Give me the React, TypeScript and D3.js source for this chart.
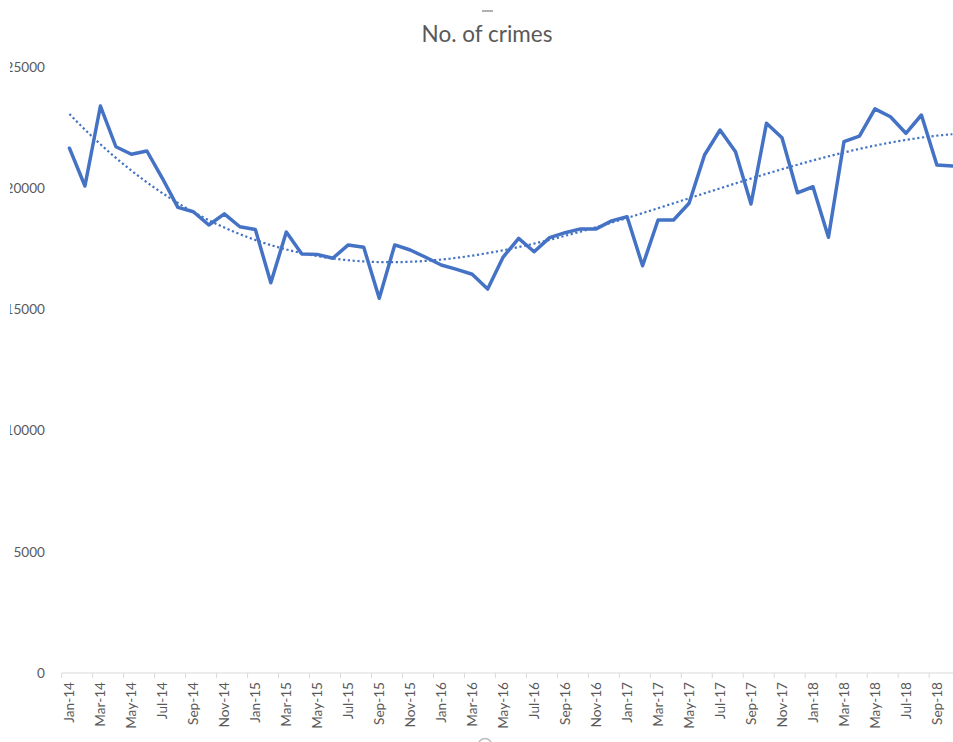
import React from 'react';
import * as d3 from 'd3';

const categories: string[] = [
  'Jan-14','Feb-14','Mar-14','Apr-14','May-14','Jun-14','Jul-14','Aug-14','Sep-14','Oct-14','Nov-14','Dec-14',
  'Jan-15','Feb-15','Mar-15','Apr-15','May-15','Jun-15','Jul-15','Aug-15','Sep-15','Oct-15','Nov-15','Dec-15',
  'Jan-16','Feb-16','Mar-16','Apr-16','May-16','Jun-16','Jul-16','Aug-16','Sep-16','Oct-16','Nov-16','Dec-16',
  'Jan-17','Feb-17','Mar-17','Apr-17','May-17','Jun-17','Jul-17','Aug-17','Sep-17','Oct-17','Nov-17','Dec-17',
  'Jan-18','Feb-18','Mar-18','Apr-18','May-18','Jun-18','Jul-18','Aug-18','Sep-18','Oct-18',
];

const crimes: number[] = [
  21650, 20090, 23390, 21710, 21400, 21535, 20410, 19210, 19030, 18480, 18940, 18410,
  18300, 16100, 18190, 17285, 17270, 17110, 17660, 17560, 15460, 17660, 17450, 17150,
  16830, 16650, 16450, 15840, 17160, 17930, 17380, 17960, 18165, 18320, 18320, 18650,
  18820, 16800, 18690, 18690, 19380, 21370, 22400, 21505, 19350, 22680, 22080, 19810,
  20060, 17975, 21920, 22150, 23270, 22950, 22265, 23020, 20960, 20920,
];

const yTicks: number[] = [0, 5000, 10000, 15000, 20000, 25000];
const title = 'No. of crimes';
const trendOrder = 3;

function polyFit(xs: number[], ys: number[], order: number) {
  // least squares polynomial (Excel polynomial trendline)
  const n = order + 1;
  const M: number[][] = d3.range(n).map(() => d3.range(n + 1).map(() => 0));
  xs.forEach((x, k) => {
    for (let i = 0; i < n; i++) {
      for (let j = 0; j < n; j++) M[i][j] += Math.pow(x, i + j);
      M[i][n] += Math.pow(x, i) * ys[k];
    }
  });
  for (let i = 0; i < n; i++) {
    const p = M[i][i];
    for (let j = i; j <= n; j++) M[i][j] /= p;
    for (let k = 0; k < n; k++) {
      if (k === i) continue;
      const f = M[k][i];
      for (let j = i; j <= n; j++) M[k][j] -= f * M[i][j];
    }
  }
  const coef = M.map((r) => r[n]);
  return (x: number) => coef.reduce((s, c, i) => s + c * Math.pow(x, i), 0);
}

export default function App() {
  const W = 953, H = 742;
  const bandW = 15.49;
  const x0 = 61.7;
  const x = d3.scaleBand<string>()
    .domain(categories)
    .range([x0, x0 + bandW * categories.length])
    .paddingInner(0).paddingOuter(0);
  const y = d3.scaleLinear().domain([0, 25000]).range([673, 67]);
  const cx = (c: string) => (x(c) as number) + x.bandwidth() / 2;

  const line = d3.line<number>()
    .x((_, i) => cx(categories[i]))
    .y((d) => y(d));

  const idx = categories.map((_, i) => i / 10);
  const fit = polyFit(idx, crimes, trendOrder);
  const xi = d3.scaleLinear().domain([0, categories.length - 1])
    .range([cx(categories[0]), cx(categories[categories.length - 1])]);
  const samples = d3.range(0, categories.length - 1 + 1e-9, 0.25);
  const trend = d3.line<number>().x((t) => xi(t)).y((t) => y(fit(t / 10))).curve(d3.curveMonotoneX);

  const tickCats = categories.filter((_, i) => i % 2 === 0);
  const textColor = '#595959';
  const font = 'Lato, Carlito, Calibri, sans-serif';

  return (
    <svg width={W} height={H} style={{ position: 'absolute', left: 0, top: 0, background: '#fff' }}>
      <defs>
        <clipPath id="ylab">
          <rect x={10} y={0} width={W} height={H} />
        </clipPath>
      </defs>
      <rect x={0} y={0} width={W} height={H} fill="#fff" />
      <line x1={482} x2={493} y1={11} y2={11} stroke="#b0b0b0" strokeWidth={2} />
      <circle cx={485} cy={745} r={6.5} fill="none" stroke="#bdbdbd" strokeWidth={1.5} />

      <text x={487} y={41.5} textAnchor="middle" fill={textColor} fontFamily={font} fontSize={22.5}>{title}</text>

      <g clipPath="url(#ylab)">
        {yTicks.map((t) => (
          <text key={t} x={45} y={y(t)} dy="0.35em" textAnchor="end" fill={textColor} fontFamily={font} fontSize={13.6}>
            {t}
          </text>
        ))}
      </g>

      <line x1={x0} x2={W} y1={y(0)} y2={y(0)} stroke="#d9d9d9" strokeWidth={1} />
      {tickCats.map((c) => (
        <line key={c} x1={(x(c) as number)} x2={(x(c) as number)} y1={y(0)} y2={y(0) + 5} stroke="#d9d9d9" strokeWidth={1} />
      ))}
      {tickCats.map((c) => (
        <text key={c} transform={`translate(${cx(c)},682) rotate(-90)`} dy="0.35em" textAnchor="end"
          fill={textColor} fontFamily={font} fontSize={13.6}>
          {c}
        </text>
      ))}

      <path d={trend(samples) || ''} fill="none" stroke="#4472C4" strokeWidth={2.2}
        strokeDasharray="2.2 2.6" />
      <path d={line(crimes) || ''} fill="none" stroke="#4472C4" strokeWidth={3.5}
        strokeLinejoin="round" strokeLinecap="round" />
    </svg>
  );
}
